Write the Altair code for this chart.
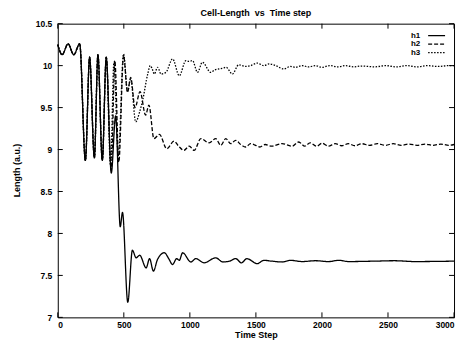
import altair as alt
import pandas as pd

# ---- data ----
h1_t = [0, 33, 78, 121, 166, 209, 241, 277, 304, 337, 367, 405, 438, 473, 490, 530, 565,
        593, 620, 669, 695, 724, 755, 807, 840, 869, 900, 920, 945, 1008, 1045, 1108, 1196,
        1250, 1300, 1347, 1390, 1432, 1510, 1560, 1620, 1700, 1760, 1850, 1950, 2050, 2130,
        2200, 2400, 2550, 2700, 3000]
h1_v = [10.25, 10.13, 10.26, 10.13, 10.26, 8.87, 10.10, 8.90, 10.13, 8.87, 10.10, 8.72, 9.40,
        8.08, 8.25, 7.18, 7.80, 7.71, 7.74, 7.59, 7.70, 7.55, 7.69, 7.77, 7.70, 7.63, 7.70,
        7.68, 7.77, 7.66, 7.70, 7.65, 7.71, 7.66, 7.67, 7.70, 7.65, 7.70, 7.64, 7.68, 7.67,
        7.66, 7.68, 7.665, 7.675, 7.665, 7.68, 7.665, 7.67, 7.675, 7.665, 7.67]

h2_t = [0, 33, 78, 121, 166, 209, 241, 277, 304, 337, 367, 405, 432, 462, 498, 528, 552, 585,
        623, 665, 690, 728, 770, 825, 880, 915, 955, 995, 1033, 1083, 1146, 1196, 1234, 1272,
        1309, 1347, 1385, 1422, 1460, 1498, 1530, 1570, 1620, 1698, 1774, 1824, 1870, 1910,
        1960, 2000, 2050, 2100, 2150, 2200, 2250, 2300, 2360, 2420, 2480, 2540, 2600, 2660,
        2720, 2780, 2840, 2900, 2960, 3000]
h2_v = [10.25, 10.13, 10.26, 10.13, 10.26, 8.87, 10.10, 8.90, 10.13, 8.87, 10.10, 8.75, 10.06,
        8.85, 10.12, 9.68, 9.86, 9.50, 9.69, 9.41, 9.53, 9.13, 9.18, 9.01, 9.10, 9.04, 8.99,
        9.04, 8.99, 9.13, 9.08, 9.13, 9.05, 9.13, 9.07, 9.11, 9.06, 9.03, 9.07, 9.05, 9.03,
        9.06, 9.04, 9.07, 9.04, 9.09, 9.04, 9.08, 9.04, 9.075, 9.04, 9.07, 9.045, 9.07, 9.045,
        9.07, 9.05, 9.07, 9.05, 9.07, 9.05, 9.065, 9.05, 9.065, 9.05, 9.065, 9.05, 9.06]

h3_t = [0, 33, 78, 121, 166, 209, 241, 277, 304, 337, 367, 400, 425, 458, 498, 528, 552, 590,
        620, 643, 681, 700, 715, 731, 756, 782, 819, 869, 920, 970, 995, 1020, 1058, 1095,
        1158, 1190, 1221, 1250, 1275, 1322, 1370, 1420, 1460, 1510, 1560, 1600, 1650, 1711,
        1760, 1800, 1850, 1900, 1950, 2000, 2060, 2120, 2180, 2240, 2300, 2400, 2480, 2560,
        2640, 2720, 2800, 2880, 2960, 3000]
h3_v = [10.25, 10.13, 10.26, 10.13, 10.26, 8.87, 10.10, 8.90, 10.13, 8.87, 10.10, 8.80, 10.04,
        8.92, 10.14, 9.70, 9.84, 9.33, 9.45, 9.59, 9.90, 10.00, 9.96, 9.90, 9.98, 9.90, 9.92,
        10.08, 9.88, 10.06, 10.05, 10.06, 9.92, 10.04, 9.92, 9.95, 9.96, 9.97, 9.98, 9.90,
        10.01, 9.99, 10.00, 10.03, 10.00, 10.02, 10.00, 9.96, 9.99, 9.98, 10.00, 9.985, 10.00,
        9.98, 10.00, 9.985, 10.00, 9.985, 9.995, 9.985, 10.00, 9.985, 10.00, 9.985, 10.00,
        9.99, 10.00, 10.00]

series_names = ["h1", "h2", "h3"]
x_ticks = [0, 500, 1000, 1500, 2000, 2500, 3000]
y_ticks = [7, 7.5, 8, 8.5, 9, 9.5, 10, 10.5]

W, H = 398, 295
FONT = "Liberation Sans"

rows = []
for name, ts, vs in [("h1", h1_t, h1_v), ("h2", h2_t, h2_v), ("h3", h3_t, h3_v)]:
    for i, (t, v) in enumerate(zip(ts, vs)):
        rows.append({"series": name, "t": t, "v": v, "order": i})
df = pd.DataFrame(rows)

xscale = alt.Scale(domain=[0, 3000], nice=False, zero=False)
yscale = alt.Scale(domain=[7, 10.5], nice=False, zero=False)
dash_scale = alt.Scale(domain=series_names, range=[[1, 0], [4, 2], [1.5, 1.5]])

lines = alt.Chart(df).mark_line(color="black", strokeWidth=1.3, interpolate="monotone").encode(
    x=alt.X("t:Q", scale=xscale,
            axis=alt.Axis(values=x_ticks, format="d", title="Time Step", labelPadding=3,
                          titleX=199, titleY=17, titleBaseline="middle", titleAlign="center")),
    y=alt.Y("v:Q", scale=yscale,
            axis=alt.Axis(values=y_ticks, format="~g", title="Length (a.u.)", labelPadding=6,
                          titleX=-41, titleY=147, titleAngle=-90, titleBaseline="middle",
                          titleAlign="center")),
    strokeDash=alt.StrokeDash("series:N", scale=dash_scale, legend=None),
    order="order:Q",
)

xt = pd.DataFrame({"t": x_ticks})
yt = pd.DataFrame({"v": y_ticks})
tick_style = dict(color="black", strokeWidth=1)
xb = alt.Chart(xt).mark_rule(**tick_style).encode(x=alt.X("t:Q", scale=xscale), y=alt.value(H), y2=alt.value(H - 5))
xtop = alt.Chart(xt).mark_rule(**tick_style).encode(x=alt.X("t:Q", scale=xscale), y=alt.value(0), y2=alt.value(5))
yl = alt.Chart(yt).mark_rule(**tick_style).encode(y=alt.Y("v:Q", scale=yscale), x=alt.value(0), x2=alt.value(5))
yr = alt.Chart(yt).mark_rule(**tick_style).encode(y=alt.Y("v:Q", scale=yscale), x=alt.value(W), x2=alt.value(W - 5))

# manual gnuplot-style legend (label left, sample right)
legend_layers = []
dashes = {"h1": [1, 0], "h2": [4, 2], "h3": [1.5, 1.5]}
for i, name in enumerate(series_names):
    ypix = 12 + i * 8.5
    ld = pd.DataFrame({"series": [name]})
    legend_layers.append(
        alt.Chart(ld).mark_text(align="right", baseline="middle", font=FONT, fontSize=8,
                                fontWeight="bold", color="black")
        .encode(text="series:N", x=alt.value(364), y=alt.value(ypix))
    )
    legend_layers.append(
        alt.Chart(ld).mark_rule(color="black", strokeWidth=1.2, strokeDash=dashes[name])
        .encode(x=alt.value(372), x2=alt.value(389), y=alt.value(ypix))
    )

chart = alt.layer(lines, xb, xtop, yl, yr, *legend_layers).properties(
    width=W, height=H,
    title=alt.TitleParams("Cell-Length\u00a0\u00a0vs\u00a0\u00a0Time step", font=FONT, fontSize=9,
                          fontWeight="bold", anchor="middle", offset=2, color="black"),
    autosize=alt.AutoSizeParams(type="none"),
    padding={"left": 50, "top": 15, "right": 6, "bottom": 22},
).configure_view(stroke="black", strokeWidth=1).configure_axis(
    domain=False, ticks=False, grid=False, labelFont=FONT, labelFontSize=8.5, labelColor="black",
    titleFont=FONT, titleFontSize=9, titleColor="black", titleFontWeight="bold", labelFontWeight="bold"
)

chart.save("out.html", embed_options={"renderer": "svg", "actions": False})
